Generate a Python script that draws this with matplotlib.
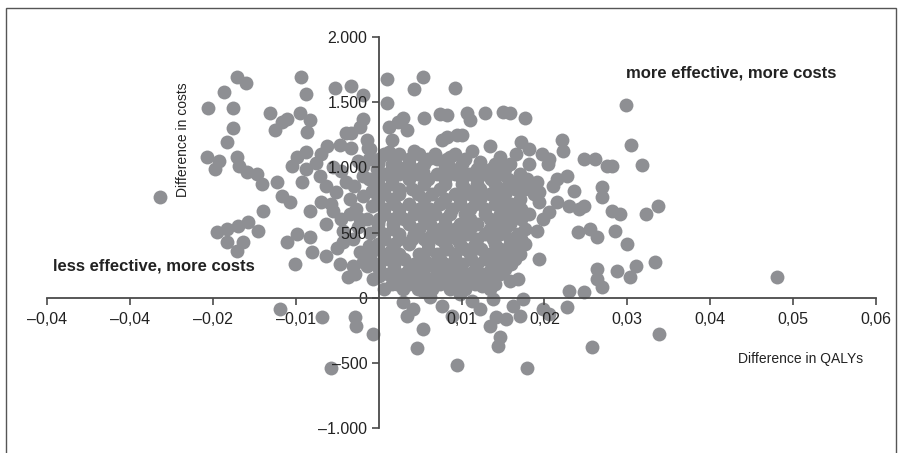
import matplotlib.pyplot as plt
from matplotlib.patches import Rectangle

plt.rcParams['font.family'] = ['Liberation Sans', 'DejaVu Sans']

# difference in QALYs / difference in costs
qaly_upper = [-0.0171, -0.0160, -0.0186, -0.0206, -0.0176, -0.0176, -0.0183, -0.0207, -0.0192, -0.0197,
              -0.0171, -0.0168, -0.0159, -0.0264, -0.0131, -0.0117, -0.0111, -0.0125, -0.0095, -0.0083,
              -0.0086, -0.0094, -0.0087, -0.0053, -0.0033, -0.0019, 0.0010, 0.0053, 0.0043, 0.0010,
              0.0092, -0.0019, -0.0023, -0.0033, -0.0014, -0.0013, 0.0013, 0.0023, 0.0029, 0.0034,
              0.0016, 0.0055, 0.0074, 0.0082, 0.0082, 0.0094, 0.0107, 0.0110, 0.0128, 0.0150,
              0.0158, 0.0176, 0.0299, 0.0305, 0.0318, 0.0100, 0.0172, 0.0221, 0.0222, 0.0113,
              0.0134, 0.0122, 0.0146, 0.0166, 0.0182, 0.0197, 0.0206, 0.0204, 0.0248, 0.0261,
              0.0275, 0.0282, 0.0013, 0.0022, 0.0043, 0.0070, 0.0077, 0.0086, 0.0035, 0.0053, 0.0089]
cost_upper = [1694, 1648, 1579, 1457, 1457, 1305, 1198, 1083, 1045, 984,
              1076, 1007, 961, 771, 1419, 1351, 1373, 1289, 1419, 1366,
              1274, 1694, 1564, 1610, 1625, 1557, 1679, 1694, 1602, 1495,
              1610, 1373, 1312, 1267, 1213, 1152, 1312, 1351, 1381, 1289,
              1213, 1381, 1412, 1404, 1236, 1251, 1419, 1366, 1419, 1427,
              1419, 1381, 1480, 1175, 1015, 1251, 1198, 1213, 1122, 1122,
              1160, 1038, 1076, 1099, 1137, 1099, 1061, 1022, 1061, 1061,
              1007, 1007, 1114, 1007, 1122, 1061, 1213, 1083, 984, 961, 984]

qaly_right = [0.0215, 0.0227, 0.0210, 0.0236, 0.0270, 0.0269, 0.0337, 0.0323, 0.0282, 0.0291,
              0.0230, 0.0248, 0.0242, 0.0215, 0.0194, 0.0198, 0.0191, 0.0240, 0.0255, 0.0263,
              0.0285, 0.0300, 0.0333, 0.0311, 0.0303, 0.0288, 0.0263, 0.0264, 0.0269, 0.0248,
              0.0230, 0.0227, 0.0194, 0.0158, 0.0168, 0.0174, 0.0162, 0.0142, 0.0134, 0.0146,
              0.0144, 0.0198, 0.0206, 0.0170, 0.0154, 0.0179, 0.0257, 0.0338, 0.0095, 0.0481,
              0.0191, 0.0194, 0.0206, 0.0179]
cost_right = [908, 931, 855, 816, 847, 771, 702, 641, 664, 641,
              702, 702, 679, 732, 809, 603, 511, 504, 526, 465,
              511, 412, 275, 244, 160, 206, 221, 145, 84, 46,
              53, -69, 298, 130, 145, -8, -61, -145, -221, -298,
              -374, -84, -122, -137, -160, -542, -381, -282, -519, 160,
              885, 732, 656, 908]

qaly_left = [-0.0147, -0.0141, -0.0123, -0.0140, -0.0116, -0.0107, -0.0099, -0.0087, -0.0104, -0.0087,
             -0.0092, -0.0069, -0.0062, -0.0047, -0.0033, -0.0071, -0.0063, -0.0051, -0.0039, -0.0035,
             -0.0019, -0.0069, -0.0055, -0.0083, -0.0146, -0.0111, -0.0099, -0.0083, -0.0080, -0.0063,
             -0.0101, -0.0037, -0.0031, -0.0007, -0.0063, -0.0043, -0.0031, -0.0023, -0.0019, -0.0119,
             -0.0068, -0.0029, -0.0027, -0.0007, -0.0057, -0.0195, -0.0183, -0.0170, -0.0183, -0.0171,
             -0.0164, -0.0158, -0.0039, -0.0023, -0.0043, -0.0014, -0.0011, -0.0014, -0.0019, -0.0011,
             -0.0019, -0.0011, -0.0027, -0.0047, -0.0010, -0.0025, -0.0045, -0.0008, -0.0030, -0.0008,
             -0.0035, -0.0010, -0.0025, -0.0050, -0.0010, -0.0028, -0.0055, -0.0075, -0.0058, -0.0045]
cost_left = [946, 870, 885, 664, 778, 732, 1083, 1114, 1007, 984,
             885, 1099, 1160, 1175, 1152, 931, 855, 809, 885, 755,
             931, 732, 664, 664, 511, 427, 488, 465, 351, 320,
             259, 160, 244, 145, 565, 511, 450, 351, 275, -84,
             -145, -145, -214, -275, -542, 504, 526, 549, 427, 359,
             427, 580, 1267, 603, 427, 244, 397, 603, 778, 908,
             1007, 1061, 679, 259, 1137, 1045, 970, 820, 860, 700,
             640, 500, 540, 380, 320, 180, 1000, 1030, 720, 600]

qaly_low = [0.0001, 0.0022, 0.0029, 0.0029, 0.0034, 0.0041, 0.0053, 0.0046, 0.0053, 0.0062,
            0.0086, 0.0089, 0.0077, 0.0110, 0.0113, 0.0138, 0.0125, 0.0070, 0.0098, 0.0122]
cost_low = [168, 107, 69, -31, -137, -84, -237, -389, 53, 8,
            122, -137, -61, 122, -23, -8, 92, 198, 31, -84]

# dense core, one row of points per cost level
core_cost = [1099, 1061, 1022, 984, 946, 908, 870, 832, 793, 755, 717, 679, 641, 603,
             565, 526, 488, 450, 412, 374, 336, 298, 259, 221, 183, 145, 107, 69]
core_qaly = [
    [0.0007, 0.0025, 0.0049, 0.0068, 0.0092],
    [0.0001, 0.0017, 0.0037, 0.0059, 0.0082, 0.0104],
    [-0.0001, 0.0016, 0.0037, 0.0055, 0.0080, 0.0100, 0.0140, 0.0158, 0.0182],
    [-0.0002, 0.0016, 0.0031, 0.0049, 0.0080, 0.0098, 0.0119, 0.0136, 0.0152],
    [0.0007, 0.0025, 0.0047, 0.0070, 0.0092, 0.0110, 0.0128, 0.0146, 0.0170],
    [-0.0001, 0.0016, 0.0037, 0.0059, 0.0080, 0.0100, 0.0119, 0.0136, 0.0156, 0.0172],
    [-0.0001, 0.0016, 0.0055, 0.0080, 0.0100, 0.0119, 0.0140, 0.0160, 0.0180],
    [0.0007, 0.0025, 0.0040, 0.0074, 0.0104, 0.0122, 0.0146, 0.0164, 0.0176],
    [0.0007, 0.0025, 0.0047, 0.0064, 0.0092, 0.0110, 0.0134, 0.0152, 0.0188],
    [-0.0001, 0.0016, 0.0055, 0.0080, 0.0098, 0.0122, 0.0146, 0.0170],
    [-0.0001, 0.0019, 0.0037, 0.0074, 0.0098, 0.0116, 0.0140, 0.0160],
    [0.0007, 0.0025, 0.0049, 0.0062, 0.0088, 0.0110, 0.0128, 0.0152, 0.0172],
    [0.0007, 0.0025, 0.0043, 0.0068, 0.0086, 0.0104, 0.0128, 0.0146, 0.0164, 0.0182],
    [0.0001, 0.0017, 0.0031, 0.0055, 0.0080, 0.0110, 0.0134, 0.0154, 0.0172],
    [-0.0001, 0.0017, 0.0037, 0.0062, 0.0080, 0.0098, 0.0119, 0.0140, 0.0158],
    [-0.0001, 0.0017, 0.0049, 0.0074, 0.0092, 0.0110, 0.0134, 0.0152, 0.0176],
    [0.0007, 0.0025, 0.0043, 0.0064, 0.0086, 0.0107, 0.0128, 0.0146, 0.0168],
    [0.0007, 0.0025, 0.0040, 0.0055, 0.0074, 0.0095, 0.0119, 0.0138, 0.0158, 0.0172],
    [-0.0001, 0.0019, 0.0037, 0.0059, 0.0080, 0.0098, 0.0116, 0.0140, 0.0158, 0.0176],
    [-0.0001, 0.0016, 0.0059, 0.0083, 0.0104, 0.0124, 0.0146, 0.0164],
    [0.0007, 0.0025, 0.0049, 0.0070, 0.0092, 0.0110, 0.0134, 0.0152, 0.0170],
    [0.0011, 0.0031, 0.0055, 0.0074, 0.0092, 0.0112, 0.0128, 0.0146, 0.0164],
    [0.0001, 0.0019, 0.0043, 0.0062, 0.0080, 0.0100, 0.0119, 0.0140, 0.0160],
    [0.0001, 0.0019, 0.0037, 0.0055, 0.0074, 0.0095, 0.0116, 0.0136, 0.0152],
    [0.0011, 0.0031, 0.0049, 0.0086, 0.0107, 0.0128, 0.0146],
    [0.0023, 0.0040, 0.0062, 0.0080, 0.0098, 0.0119, 0.0136],
    [0.0016, 0.0037, 0.0055, 0.0074, 0.0095, 0.0116, 0.0140],
    [0.0007, 0.0047, 0.0065, 0.0086, 0.0104, 0.0134],
]

x_ticks = [-0.04, -0.03, -0.02, -0.01, 0.01, 0.02, 0.03, 0.04, 0.05, 0.06]
x_labels = ['–0,04', '–0,04', '–0,02', '–0,01', '0,01', '0,02', '0,03', '0,04', '0,05', '0,06']
y_ticks = [-1000, -500, 0, 500, 1000, 1500, 2000]
y_labels = ['–1.000', '–500', '0', '500', '1.000', '1.500', '2.000']

qaly = qaly_upper + qaly_right + qaly_left + qaly_low
cost = cost_upper + cost_right + cost_left + cost_low
for c, row in zip(core_cost, core_qaly):
    qaly += row
    cost += [c] * len(row)

fig = plt.figure(figsize=(9.02, 4.53), dpi=100)
ax = fig.add_axes([47 / 902, 1 - 428 / 453, 829 / 902, 391 / 453])
ax.scatter(qaly, cost, s=100, c='#8e8f93', linewidths=0, zorder=1)

ax.set_xlim(-0.04, 0.06)
ax.set_ylim(-1000, 2000)
for side in ['top', 'right']:
    ax.spines[side].set_visible(False)
ax.spines['left'].set_position(('data', 0))
ax.spines['bottom'].set_position(('data', 0))
for side in ['left', 'bottom']:
    ax.spines[side].set_color('#4a4a4a')
    ax.spines[side].set_linewidth(1.3)

ax.set_xticks(x_ticks)
ax.set_xticklabels(x_labels)
ax.set_yticks(y_ticks)
ax.set_yticklabels(y_labels)
ax.tick_params(axis='both', direction='out', length=5, width=1.2, color='#4a4a4a',
               labelsize=11.5, labelcolor='#222222')
ax.tick_params(axis='x', pad=5)
ax.tick_params(axis='y', pad=3)

ax.text(-0.0236, 1213, 'Difference in costs', rotation=90, ha='center', va='center',
        fontsize=10, color='#222222')
ax.text(0.0584, -473, 'Difference in QALYs', ha='right', va='center', fontsize=10, color='#222222')
ax.text(0.0298, 1724, 'more effective, more costs', ha='left', va='center',
        fontsize=12, fontweight='bold', color='#222222')
ax.text(-0.0393, 244, 'less effective, more costs', ha='left', va='center',
        fontsize=12, fontweight='bold', color='#222222')

fig.add_artist(Rectangle((6 / 902, -0.02), 890 / 902, 1 - 8 / 453 + 0.02, fill=False,
                         edgecolor='#555555', linewidth=1, transform=fig.transFigure))

fig.savefig('out.png', dpi=100)
